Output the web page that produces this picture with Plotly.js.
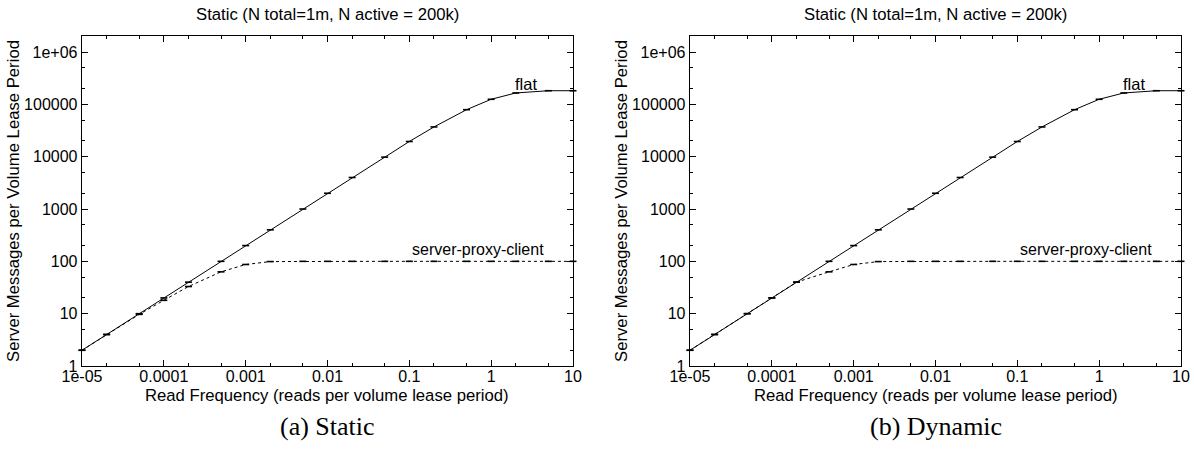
<!DOCTYPE html>
<html>
<head>
<meta charset="utf-8">
<script src="https://cdn.plot.ly/plotly-3.0.1.min.js"></script>
<style>html,body{margin:0;padding:0;background:#fff;}#chart{width:1194px;height:449px;}</style>
</head>
<body>
<div id="chart"></div>
<script>
// Data
const readFreq = [1e-5, 2e-5, 5e-5, 1e-4, 2e-4, 5e-4, 1e-3, 2e-3, 5e-3, 0.01, 0.02, 0.05, 0.1, 0.2, 0.5, 1, 2, 5, 10];
const flatStatic = [2, 4, 10, 20, 40, 100, 200, 400, 1000, 2000, 4000, 9800, 19500, 37000, 79000, 125000, 165000, 182000, 182000];
const spcStatic = [2, 4, 9.7, 18, 33, 63, 87, 99, 100, 100, 100, 100, 100, 100, 100, 100, 100, 100, 100];
const flatDynamic = [2, 4, 10, 20, 40, 100, 200, 400, 1000, 2000, 4000, 9800, 19500, 37000, 79000, 125000, 165000, 182000, 182000];
const spcDynamic = [2, 4, 10, 20, 40, 63, 87, 99, 100, 100, 100, 100, 100, 100, 100, 100, 100, 100, 100];

const xTickVals = [1e-5, 1e-4, 1e-3, 1e-2, 1e-1, 1, 10];
const xTickText = ["1e-05", "0.0001", "0.001", "0.01", "0.1", "1", "10"];
const xMinorVals = [2e-5, 5e-5, 2e-4, 5e-4, 2e-3, 5e-3, 2e-2, 5e-2, 0.2, 0.5, 2, 5];
const yTickVals = [1, 10, 100, 1000, 10000, 100000, 1000000];
const yTickText = ["1", "10", "100", "1000", "10000", "100000", "1e+06"];
const yMinorVals = [2, 5, 20, 50, 200, 500, 2000, 5000, 20000, 50000, 200000, 500000, 2000000];

const panelTitle = "Static (N total=1m, N active = 200k)";
const xTitle = "Read Frequency (reads per volume lease period)";
const yTitle = "Server Messages per Volume Lease Period";
const captions = ["(a) Static", "(b) Dynamic"];
const seriesLabels = ["flat", "server-proxy-client"];

const FONT = '"Liberation Sans", Arial, Helvetica, sans-serif';
const W = 1194, H = 449;

function trace(y, dash, xa, ya) {
  return {
    x: readFreq, y: y, xaxis: xa, yaxis: ya, type: 'scatter', mode: 'lines+markers',
    line: {color: '#000', width: 1, dash: dash},
    marker: {symbol: 'line-ew-open', size: 5, line: {color: '#000', width: 1.6}},
    showlegend: false, hoverinfo: 'skip', cliponaxis: false
  };
}

const data = [
  trace(flatStatic, 'solid', 'x', 'y'),
  trace(spcStatic, 'dot', 'x', 'y'),
  trace(flatDynamic, 'solid', 'x2', 'y2'),
  trace(spcDynamic, 'dot', 'x2', 'y2')
];

function xAxis(domain, anchor) {
  return {
    type: 'log', domain: domain, anchor: anchor, range: [-5, 1],
    tickmode: 'array', tickvals: xTickVals, ticktext: xTickText,
    ticks: 'inside', ticklen: 6, tickwidth: 1, tickcolor: '#000',
    minor: {tickmode: 'array', tickvals: xMinorVals, ticks: 'inside', ticklen: 3, tickcolor: '#000'},
    showline: true, linecolor: '#000', linewidth: 1.3, mirror: 'ticks',
    showgrid: false, zeroline: false,
    tickfont: {family: FONT, size: 16, color: '#000'},
    ticklabelstandoff: -5
  };
}
function yAxis(anchor) {
  return {
    type: 'log', domain: [(H - 366) / H, (H - 36) / H], anchor: anchor, range: [0, 6.306],
    tickmode: 'array', tickvals: yTickVals, ticktext: yTickText,
    ticks: 'inside', ticklen: 6, tickwidth: 1, tickcolor: '#000',
    minor: {tickmode: 'array', tickvals: yMinorVals, ticks: 'inside', ticklen: 3, tickcolor: '#000'},
    showline: true, linecolor: '#000', linewidth: 1.3, mirror: 'ticks',
    showgrid: false, zeroline: false,
    tickfont: {family: FONT, size: 16, color: '#000'},
    title: {text: yTitle, font: {family: FONT, size: 16.7, color: '#000'}, standoff: 0},
    ticklabelstandoff: 0
  };
}

const ann = [];
const panels = [
  {xa: 'x', ya: 'y', x0: 82, x1: 573},
  {xa: 'x2', ya: 'y2', x0: 690, x1: 1181}
];
panels.forEach((p, i) => {
  const cx = (p.x0 + p.x1) / 2 / W;
  ann.push({xref: 'paper', yref: 'paper', x: cx, y: (H - 14) / H, text: panelTitle,
    showarrow: false, xanchor: 'center', yanchor: 'middle', font: {family: FONT, size: 16.7, color: '#000'}});
  ann.push({xref: 'paper', yref: 'paper', x: cx, y: (H - 395) / H, text: xTitle,
    showarrow: false, xanchor: 'center', yanchor: 'middle', font: {family: FONT, size: 16.7, color: '#000'}});
  ann.push({xref: 'paper', yref: 'paper', x: cx, y: (H - 426) / H, text: captions[i],
    showarrow: false, xanchor: 'center', yanchor: 'middle',
    font: {family: '"Liberation Serif", "Times New Roman", serif', size: 26, color: '#000'}});
  ann.push({xref: p.xa, yref: p.ya, x: Math.log10(2.7), y: Math.log10(2.5e5), text: seriesLabels[0],
    showarrow: false, xanchor: 'center', yanchor: 'middle', font: {family: FONT, size: 16.5, color: '#000'}});
  ann.push({xref: p.xa, yref: p.ya, x: Math.log10(0.69), y: Math.log10(165), text: seriesLabels[1],
    showarrow: false, xanchor: 'center', yanchor: 'middle', font: {family: FONT, size: 16, color: '#000'}});
});

const layout = {
  width: W, height: H,
  margin: {l: 0, r: 0, t: 0, b: 0},
  paper_bgcolor: '#fff', plot_bgcolor: '#fff',
  xaxis: xAxis([82 / W, 573 / W], 'y'),
  yaxis: yAxis('x'),
  xaxis2: xAxis([690 / W, 1181 / W], 'y2'),
  yaxis2: yAxis('x2'),
  annotations: ann,
  showlegend: false
};

Plotly.newPlot('chart', data, layout, {staticPlot: true, displayModeBar: false});
</script>
</body>
</html>
